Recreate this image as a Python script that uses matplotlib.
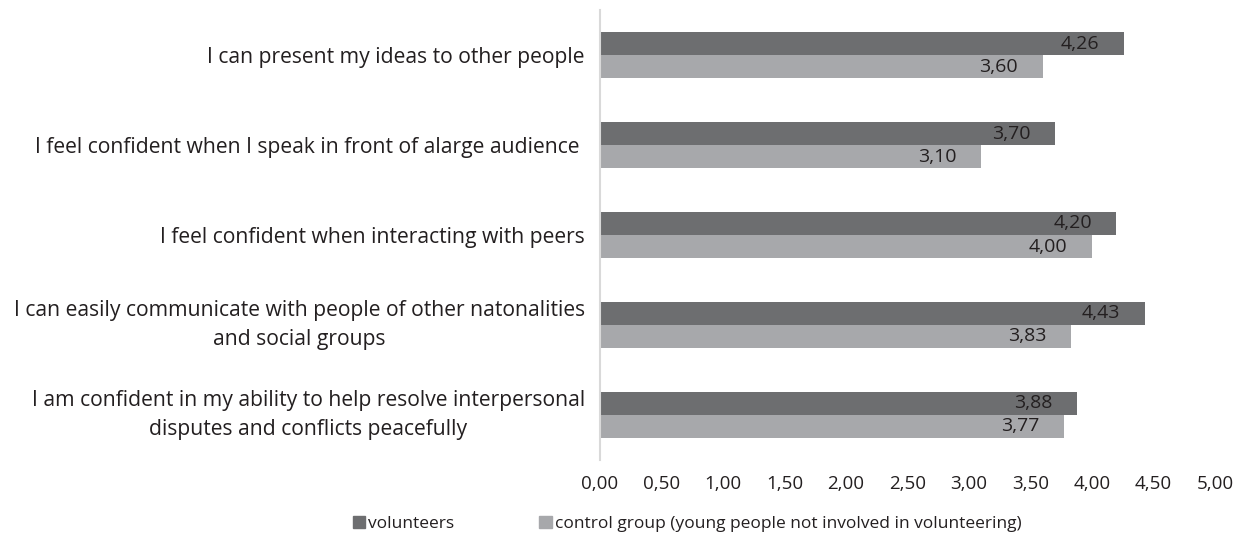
import matplotlib.pyplot as plt
import numpy as np
from matplotlib.patches import Patch

plt.rcParams['font.family'] = ['Open Sans', 'DejaVu Sans']

categories = [
    "I can present my ideas to other people",
    "I feel confident when I speak in front of alarge audience ",
    "I feel confident when interacting with peers",
    "I can easily communicate with people of other natonalities\nand social groups",
    "I am confident in my ability to help resolve interpersonal\ndisputes and conflicts peacefully",
]
volunteers = [4.26, 3.70, 4.20, 4.43, 3.88]
control = [3.60, 3.10, 4.00, 3.83, 3.77]
xticks = [0, 0.5, 1, 1.5, 2, 2.5, 3, 3.5, 4, 4.5, 5]

dark = "#6d6e70"
light = "#a7a8ab"
txt = "#231f20"

fig = plt.figure(figsize=(12.38, 5.39), dpi=100)
ax = fig.add_axes([0.4847, 0.147, 0.4966, 0.834])

y = np.arange(len(categories))
h = 0.256
ax.barh(y - h / 2, volunteers, height=h, color=dark)
ax.barh(y + h / 2, control, height=h, color=light)

for i in range(len(categories)):
    ax.text(volunteers[i] - 0.2, y[i] - h / 2, f"{volunteers[i]:.2f}".replace(".", ","),
            ha="right", va="center", fontsize=14, color=txt)
    ax.text(control[i] - 0.2, y[i] + h / 2, f"{control[i]:.2f}".replace(".", ","),
            ha="right", va="center", fontsize=14, color=txt)

ax.set_xlim(0, 5)
ax.set_ylim(4.5, -0.5)
ax.set_xticks(xticks)
ax.set_xticklabels([f"{t:.2f}".replace(".", ",") for t in xticks], fontsize=13.5, color=txt)
ax.set_yticks(y)
ax.set_yticklabels(categories, fontsize=15.2, color=txt, multialignment="center")
for lab in ax.get_yticklabels():
    lab.set_linespacing(1.5)
    if "\n" in lab.get_text():
        lab.set_va("center")
ax.tick_params(axis="both", length=0)
ax.tick_params(axis="y", pad=11)
ax.tick_params(axis="x", pad=11)
for s in ["top", "right", "bottom"]:
    ax.spines[s].set_visible(False)
ax.spines["left"].set_color("#d9d9d9")
ax.spines["left"].set_linewidth(1.5)

handles = [Patch(color=dark), Patch(color=light)]
fig.legend(handles, ["volunteers", "control group (young people not involved in volunteering)"],
           loc="center", bbox_to_anchor=(0.555, 0.028), ncol=2, frameon=False,
           fontsize=12.5, handlelength=0.7, handleheight=0.7, handletextpad=0.2,
           columnspacing=4.9, labelcolor=txt)

fig.savefig("out.png", dpi=100)
